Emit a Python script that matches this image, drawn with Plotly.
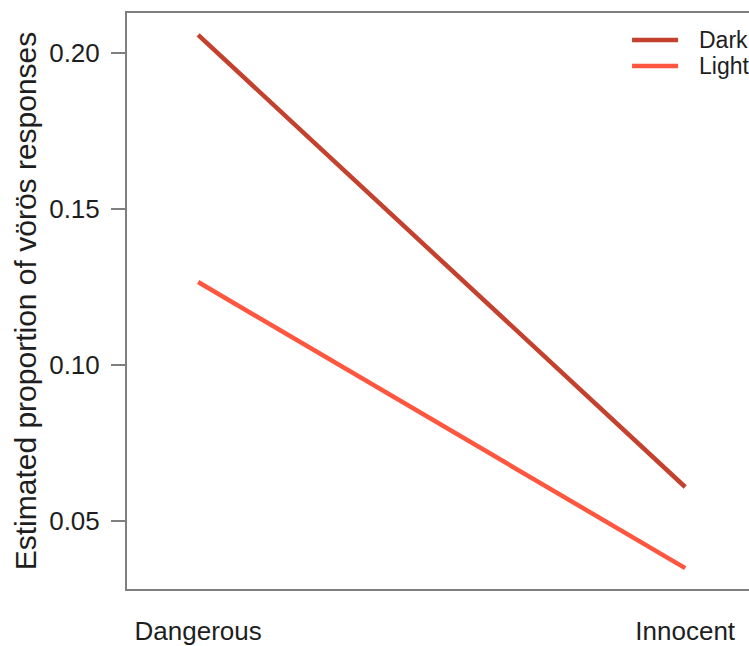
import plotly.graph_objects as go

categories = ["Dangerous", "Innocent"]
series_names = ["Dark", "Light"]
dark_values = [0.2058, 0.0609]
light_values = [0.1266, 0.0349]
y_tick_vals = [0.05, 0.10, 0.15, 0.20]
y_tick_text = ["0.05", "0.10", "0.15", "0.20"]

colors = ["#C3412D", "#FF5640"]
font_family = "Liberation Sans, Arial, sans-serif"
text_color = "#1e1e1e"
axis_color = "#7f7f7f"

fig = go.Figure()
for name, vals, col in zip(series_names, [dark_values, light_values], colors):
    fig.add_trace(go.Scatter(x=categories, y=vals, mode="lines", name=name,
                             line=dict(color=col, width=4.5), showlegend=False))

# legend drawn as swatches + labels in paper coordinates
legend_y = [0.953, 0.908]
for name, col, ly in zip(series_names, colors, legend_y):
    fig.add_shape(type="line", xref="paper", yref="paper",
                  x0=0.812, x1=0.886, y0=ly, y1=ly,
                  line=dict(color=col, width=4.5))
    fig.add_annotation(xref="paper", yref="paper", x=0.9164, y=ly,
                       xanchor="left", yanchor="middle", showarrow=False,
                       text=name, font=dict(size=23, color=text_color))

fig.update_layout(
    width=749, height=646,
    margin=dict(l=127, r=0, t=13, b=57, autoexpand=False),
    paper_bgcolor="white", plot_bgcolor="white",
    font=dict(family=font_family, color=text_color, size=26),
)
fig.update_xaxes(
    type="category", range=[-0.146, 1.131],
    showgrid=False, zeroline=False,
    showline=True, linecolor=axis_color, linewidth=2, mirror=True,
    ticks="", ticklabelstandoff=18,
    tickfont=dict(size=26, color=text_color),
)
fig.update_yaxes(
    range=[0.02821, 0.21282],
    tickvals=y_tick_vals, ticktext=y_tick_text,
    showgrid=False, zeroline=False,
    showline=True, linecolor=axis_color, linewidth=2, mirror=False,
    ticks="outside", ticklen=14, tickwidth=2, tickcolor=axis_color,
    ticklabelstandoff=6,
    tickfont=dict(size=26, color=text_color),
    title=dict(text="Estimated proportion of vörös responses",
               font=dict(size=30, color=text_color), standoff=4),
)

fig.write_html("out.html",
               config={"displayModeBar": False},
               post_script="document.body.style.margin='0px';document.body.style.overflow='hidden';")
